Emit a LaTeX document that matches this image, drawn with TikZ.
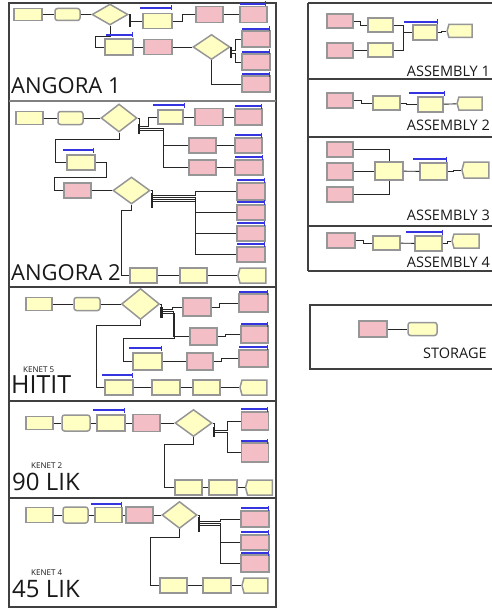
\documentclass[tikz,border=0pt]{standalone}
\usepackage{fontspec}
\setmainfont{Open Sans}
\usetikzlibrary{shapes.geometric,shapes.misc,shapes.symbols,arrows.meta}
\definecolor{ay}{HTML}{FFFFC4}
\definecolor{ap}{HTML}{F4BEC6}
\definecolor{bord}{HTML}{969696}
\definecolor{qb}{HTML}{3434E0}
\newcommand{\bx}[6]{\node[#1,minimum width=#5pt,minimum height=#6pt] (#2) at (#3,#4) {};}
\newcommand{\gt}[4]{\node[gatebar,minimum height=#4pt] (#1) at (#2,#3) {};}
\tikzset{
 abox/.style={draw=bord, line width=1.5pt, inner sep=0pt},
 yb/.style={abox, fill=ay},
 pb/.style={abox, fill=ap},
 asg/.style={abox, fill=ay, rounded corners=2.5pt},
 dsp/.style={abox, fill=ay, signal, signal to=west, signal pointer angle=150},
 dec/.style={abox, fill=ay, diamond},
 gatebar/.style={fill=black!85, inner sep=0pt, minimum width=1.8pt},
 conn/.style={draw=black!85, line width=0.9pt},
 qbar/.style={draw=qb, line width=1.1pt, -{Bar[width=5pt,line width=1.2pt]}},
 frm/.style={draw=black!75, line width=1.3pt},
 lab/.style={text=black!90, inner sep=0pt},
}
\begin{document}
\begin{tikzpicture}[x=1pt,y=-1pt]
\useasboundingbox (0,0) rectangle (491,610);
\fill[white] (0,0) rectangle (491,610);
% ---------------- frames
\draw[frm] (9,3) rectangle (276,607);
\draw[draw=black!50, line width=2.6pt] (9,101) -- (276,101);
\draw[frm] (9,287) -- (276,287);
\draw[frm] (9,401) -- (276,401);
\draw[frm] (9,498) -- (276,498);
\draw[frm] (308,3) -- (500,3);
\draw[frm] (308,271) -- (500,271);
\draw[frm] (308,3) -- (308,271);
\draw[frm] (308,79) -- (500,79);
\draw[frm] (308,137) -- (500,137);
\draw[frm] (308,226) -- (500,226);
\draw[frm] (500,305) -- (310,305) -- (310,369) -- (500,369);

% ---------------- ANGORA 1
\bx{yb}{a1c}{28}{14.5}{28}{12}
\bx{asg}{a1s}{67.5}{14.5}{25}{12}
\bx{dec}{a1d}{110}{14.5}{36}{21}
\gt{a1g}{130}{21}{12}
\bx{yb}{a1p1}{157.5}{21}{29}{15}
\bx{pb}{a1r1}{209.5}{14.5}{27}{16}
\bx{pb}{a1r2}{253.5}{14.5}{27}{16}
\bx{yb}{a1p2}{119}{47}{28}{16}
\bx{pb}{a1r3}{158}{47}{28}{15}
\bx{dec}{a1d2}{211.5}{47}{37}{25}
\gt{a1g2}{231}{52.5}{11}
\bx{pb}{a1r4}{256}{39}{28}{16}
\bx{pb}{a1r5}{256}{62}{28}{16}
\bx{pb}{a1r6}{256}{84}{28}{16}
\draw[conn] (a1c) -- (a1s);
\draw[conn] (a1s) -- (a1d);
\draw[conn] (a1d.east) -| (a1g.north);
\draw[conn] (a1g) -- (a1p1.west);
\draw[conn] (a1p1.east) -- ++(10,0) |- (a1r1.west);
\draw[conn] (a1r1) -- (a1r2);
\draw[conn] (a1d.south) |- (95,36) |- (a1p2.west);
\draw[conn] (a1p2) -- (a1r3);
\draw[conn] (a1r3) -- (a1d2);
\draw[conn] (a1d2.east) -| (a1g2.north);
\draw[conn] ([yshift=2pt]a1g2.center) -- ++(4,0) |- (a1r4.west);
\draw[conn] ([yshift=-1pt]a1g2.center) -- ++(4,0) |- (a1r5.west);
\draw[conn] (a1d2.south) |- (a1r6.west);
\draw[qbar] (140,8) -- (172,8);
\draw[qbar] (240,4) -- (266,4);
\draw[qbar] (106,35) -- (133,35);
\draw[qbar] (242,29) -- (270,29);
\draw[qbar] (242,52) -- (270,52);
\draw[qbar] (242,74) -- (270,74);
\node[lab, anchor=base west, font=\fontsize{22}{22}\selectfont] (t1) at (11,93) {ANGORA 1};

% ---------------- ANGORA 2
\bx{yb}{a2c}{29.5}{118}{27}{13}
\bx{asg}{a2s}{70.5}{118}{25}{13}
\bx{dec}{a2d}{119}{118}{36}{28}
\gt{a2g}{139}{129}{10}
\bx{yb}{a2p1}{170.5}{117}{25}{14}
\bx{pb}{a2r1}{209}{117}{28}{17}
\bx{pb}{a2r2}{248.5}{117}{27}{16}
\bx{pb}{a2r3}{202.5}{145.5}{27}{15}
\bx{pb}{a2r4}{248.5}{145.5}{27}{15}
\bx{pb}{a2r5}{202.5}{167.5}{27}{15}
\bx{pb}{a2r6}{249}{167.5}{28}{15}
\bx{yb}{a2p2}{81}{162.5}{28}{15}
\bx{pb}{a2r7}{77.5}{190.5}{27}{15}
\bx{dec}{a2d2}{131.5}{190.5}{37}{27}
\gt{a2g2}{152}{200.5}{15}
\bx{pb}{a2r8}{251}{191.5}{28}{17}
\bx{pb}{a2r9}{251}{212.5}{28}{15}
\bx{pb}{a2r10}{251}{233.5}{28}{15}
\bx{pb}{a2r11}{251}{254.5}{28}{15}
\bx{yb}{a2b1}{143.5}{275.5}{27}{15}
\bx{yb}{a2b2}{193.5}{275.5}{27}{15}
\bx{dsp}{a2b3}{253}{275.5}{28}{15}
\draw[conn] (a2c) -- (a2s);
\draw[conn] (a2s) -- (a2d);
\draw[conn] (a2d.east) -| (a2g.north);
\draw[conn] ([yshift=3pt]a2g.center) -- ++(9,0) |- (a2p1.west);
\draw[conn] ([yshift=1pt]a2g.center) -- (163,128) |- (a2r3.west);
\draw[conn] ([yshift=-1pt]a2g.center) -- (163,130) |- (a2r5.west);
\draw[conn] (a2p1) -- (a2r1);
\draw[conn] (a2r1) -- (a2r2);
\draw[conn] (a2r3) -- (a2r4);
\draw[conn] (a2r5) -- (a2r6);
\draw[conn] (a2d.south) |- (55,139) |- (a2p2.west);
\draw[conn] (a2p2.east) -- (106,162.5) |- (54,177) |- (a2r7.west);
\draw[conn] (a2r7) -- (a2d2);
\draw[conn] (a2d2.east) -| (a2g2.north);
\draw[conn] ([yshift=5pt]a2g2.center) -- (195,195.5) |- (a2r8.west);
\draw[conn] ([yshift=3pt]a2g2.center) -- (195,197.5) |- (a2r9.west);
\draw[conn] ([yshift=1pt]a2g2.center) -- (195,199.5) |- (a2r10.west);
\draw[conn] ([yshift=-1pt]a2g2.center) -- (195,201.5) |- (a2r11.west);
\draw[conn] (a2d2.south) |- (121,210) |- (a2b1.west);
\draw[conn] (a2b1) -- (a2b2);
\draw[conn] (a2b2) -- (a2b3);
\draw[qbar] (153,105) -- (185,105);
\draw[qbar] (235,106) -- (262,106);
\draw[qbar] (235,135) -- (262,135);
\draw[qbar] (235,157) -- (263,157);
\draw[qbar] (63,150) -- (94,150);
\draw[qbar] (237,180) -- (265,180);
\draw[qbar] (237,202) -- (265,202);
\draw[qbar] (237,223) -- (265,223);
\draw[qbar] (237,244) -- (265,244);
\node[lab, anchor=base west, font=\fontsize{22}{22}\selectfont] (t2) at (11,280.5) {ANGORA 2};

% ---------------- HITIT
\bx{yb}{hc}{39}{304}{26}{13}
\bx{asg}{hs}{87}{304}{26}{13}
\bx{dec}{hd}{140.5}{304}{38}{31}
\node[gatebar,minimum width=3pt,minimum height=11pt] (hg) at (161,312.5) {};
\bx{pb}{hr1}{197}{307}{28}{18}
\bx{pb}{hr2}{253.5}{303}{29}{18}
\bx{pb}{hr3}{203.5}{336.5}{27}{17}
\bx{pb}{hr4}{254.5}{334.5}{27}{17}
\bx{yb}{hp1}{147.5}{361.5}{29}{17}
\bx{pb}{hr5}{200}{361.5}{26}{17}
\bx{pb}{hr6}{253.5}{358.5}{29}{17}
\bx{yb}{hb1}{119}{387.5}{28}{15}
\bx{yb}{hb2}{166}{387.5}{28}{15}
\bx{yb}{hb3}{206.5}{387.5}{27}{15}
\bx{dsp}{hb4}{254.5}{387.5}{27}{15}
\draw[conn] (hc) -- (hs);
\draw[conn] (hs) -- (hd);
\draw[conn] (hd.east) -| (hg.north);
\draw[conn] ([yshift=3pt]hg.center) -- (172,309.5) |- (hr1.west);
\draw[conn] ([yshift=1pt]hg.center) -- (173,311.5) |- (hr3.west);
\draw[conn] ([yshift=-1pt]hg.center) -- (174,313.5) |- (123,338) |- (hp1.west);
\draw[conn] (hr1.east) -- ++(8,0) |- (hr2.west);
\draw[conn] (hr3.east) -- ++(8,0) |- (hr4.west);
\draw[conn] (hp1) -- (hr5);
\draw[conn] (hr5.east) -- ++(8,0) |- (hr6.west);
\draw[conn] (hd.south) |- (96,325) |- (hb1.west);
\draw[conn] (hb1) -- (hb2);
\draw[conn] (hb2) -- (hb3);
\draw[conn] (hb3) -- (hb4);
\draw[qbar] (239,292) -- (268,292);
\draw[qbar] (241,324) -- (268,324);
\draw[qbar] (239,347) -- (268,347);
\draw[qbar] (129,348) -- (162,348);
\draw[qbar] (102,375) -- (133,375);
\node[lab, anchor=base west, font=\fontsize{8}{8}\selectfont] (k5) at (23,372) {KENET 5};
\node[lab, anchor=base west, font=\fontsize{25}{25}\selectfont] (t3) at (11,393.5) {HITIT};

% ---------------- 90 LIK
\bx{yb}{nc}{39.5}{423}{27}{13}
\bx{asg}{ns}{76}{423}{28}{16}
\bx{yb}{np}{111}{423}{28}{16}
\bx{pb}{nr}{146.5}{423}{27}{17}
\bx{dec}{nd}{193.5}{423}{37}{27}
\gt{ng}{214}{432}{10}
\bx{pb}{nr1}{255}{421}{27}{18}
\bx{pb}{nr2}{255}{452.5}{27}{19}
\bx{yb}{nb1}{188.5}{487.5}{27}{15}
\bx{yb}{nb2}{223}{487.5}{28}{15}
\bx{dsp}{nb3}{260}{487.5}{27}{15}
\draw[conn] (nc) -- (ns);
\draw[conn] (ns) -- (np);
\draw[conn] (np) -- (nr);
\draw[conn] (nr) -- (nd);
\draw[conn] (nd.east) -| (ng.north);
\draw[conn] ([yshift=2pt]ng.center) -- (227,430) |- (nr1.west);
\draw[conn] ([yshift=0pt]ng.center) -- (227,432) |- (nr2.west);
\draw[conn] (nd.south) |- (164,444) |- (nb1.west);
\draw[conn] (nb1) -- (nb2);
\draw[conn] (nb2) -- (nb3);
\draw[qbar] (93,410) -- (125,410);
\draw[qbar] (241,409) -- (268,409);
\draw[qbar] (241,441) -- (268,441);
\node[lab, anchor=base west, font=\fontsize{8}{8}\selectfont] (k2) at (31,468) {KENET 2};
\node[lab, anchor=base west, font=\fontsize{24}{24}\selectfont] (t4) at (12,490.5) {90 LIK};

% ---------------- 45 LIK
\bx{yb}{fc}{39.5}{515}{27}{15}
\bx{asg}{fs}{75.5}{515}{25}{16}
\bx{yb}{fp}{108.5}{515}{27}{15}
\bx{pb}{fr}{139.5}{515}{27}{16}
\bx{dec}{fd}{179.5}{515}{35}{27}
\gt{fg}{199}{524.5}{15}
\bx{pb}{fr1}{255}{519}{28}{16}
\bx{pb}{fr2}{255}{542.5}{28}{15}
\bx{pb}{fr3}{255}{563.5}{28}{17}
\bx{yb}{fb1}{173.5}{585.5}{27}{15}
\bx{yb}{fb2}{217}{585.5}{28}{15}
\bx{dsp}{fb3}{256}{585.5}{26}{15}
\draw[conn] (fc) -- (fs);
\draw[conn] (fs) -- (fp);
\draw[conn] (fp) -- (fr);
\draw[conn] (fr) -- (fd);
\draw[conn] (fd.east) -| (fg.north);
\draw[conn] ([yshift=3pt]fg.center) -- (220,521.5) |- (fr1.west);
\draw[conn] ([yshift=1pt]fg.center) -- (220,523.5) |- (fr2.west);
\draw[conn] ([yshift=-1pt]fg.center) -- (220,525.5) |- (fr3.west);
\draw[conn] (fd.south) |- (150,537) |- (fb1.west);
\draw[conn] (fb1) -- (fb2);
\draw[conn] (fb2) -- (fb3);
\draw[qbar] (91,504) -- (122,504);
\draw[qbar] (241,508) -- (269,508);
\draw[qbar] (241,532) -- (269,532);
\draw[qbar] (241,553) -- (269,553);
\node[lab, anchor=base west, font=\fontsize{8}{8}\selectfont] (k4) at (31,575) {KENET 4};
\node[lab, anchor=base west, font=\fontsize{24}{24}\selectfont] (t5) at (12,597.5) {45 LIK};

% ---------------- ASSEMBLY 1
\bx{pb}{s1r1}{340}{21}{26}{14}
\bx{pb}{s1r2}{340}{50.5}{26}{15}
\bx{yb}{s1y1}{380.5}{25}{25}{14}
\bx{yb}{s1y2}{380.5}{50}{25}{14}
\bx{yb}{s1b}{425}{32.5}{24}{15}
\bx{dsp}{s1d}{460.5}{31}{25}{13}
\draw[conn] (s1r1.east) -- ++(7,0) |- (s1y1.west);
\draw[conn] (s1r2.east) -- ++(7,0) |- (s1y2.west);
\draw[conn] (s1y1.east) -- (403,25) |- (s1b.west);
\draw[conn] (s1y2.east) -- (403,50) |- (s1b.west);
\draw[conn] (s1b.east) -- ++(4,0) |- (s1d.west);
\draw[qbar] (404,22) -- (438,22);
\node[lab, anchor=base east, font=\fontsize{14.5}{14.5}\selectfont] (u1) at (490,77) {ASSEMBLY 1};

% ---------------- ASSEMBLY 2
\bx{pb}{s2r}{340}{100.5}{26}{15}
\bx{yb}{s2y}{386.5}{103}{27}{14}
\bx{yb}{s2b}{430.5}{104.5}{25}{15}
\bx{dsp}{s2d}{470.5}{103.5}{25}{13}
\draw[conn] (s2r.east) -- ++(8,0) |- (s2y.west);
\draw[conn] (s2y.east) -- ++(6,0) |- (s2b.west);
\draw[conn] (s2b) -- (s2d);
\draw[qbar] (409,93) -- (445,93);
\node[lab, anchor=base east, font=\fontsize{14.5}{14.5}\selectfont] (u2) at (490,130) {ASSEMBLY 2};

% ---------------- ASSEMBLY 3
\bx{pb}{s3r1}{340}{149.5}{26}{15}
\bx{pb}{s3r2}{340}{171.5}{26}{17}
\bx{pb}{s3r3}{340}{194.5}{26}{15}
\bx{yb}{s3y}{389}{171}{28}{18}
\bx{yb}{s3b}{433.5}{171.5}{27}{17}
\bx{dsp}{s3d}{476.5}{170}{27}{16}
\draw[conn] (s3r1.east) -| (s3y.north);
\draw[conn] (s3r3.east) -| (s3y.south);
\draw[conn] (s3r2.east) -- ++(10,0) |- (s3y.west);
\draw[conn] (s3y) -- (s3b);
\draw[conn] (s3b.east) -- ++(6,0) |- (s3d.west);
\draw[qbar] (413,159) -- (447,159);
\node[lab, anchor=base east, font=\fontsize{14.5}{14.5}\selectfont] (u3) at (490,220) {ASSEMBLY 3};

% ---------------- ASSEMBLY 4
\bx{pb}{s4r}{341}{240.5}{28}{15}
\bx{yb}{s4y}{386.5}{243}{27}{14}
\bx{yb}{s4b}{428.5}{243.5}{27}{15}
\bx{dsp}{s4d}{466.5}{241}{27}{14}
\draw[conn] (s4r.east) -- ++(8,0) |- (s4y.west);
\draw[conn] (s4y) -- (s4b);
\draw[conn] (s4b.east) -- ++(5,0) |- (s4d.west);
\draw[qbar] (406,232) -- (443,232);
\node[lab, anchor=base east, font=\fontsize{14.5}{14.5}\selectfont] (u4) at (490,267) {ASSEMBLY 4};

% ---------------- STORAGE
\bx{pb}{stR}{373}{329}{28}{16}
\bx{asg}{stY}{422.5}{329}{29}{13}
\draw[conn] (stR) -- (stY);
\node[lab, anchor=base west, font=\fontsize{14.5}{14.5}\selectfont] (u5) at (423,358) {STORAGE};
\end{tikzpicture}
\end{document}
